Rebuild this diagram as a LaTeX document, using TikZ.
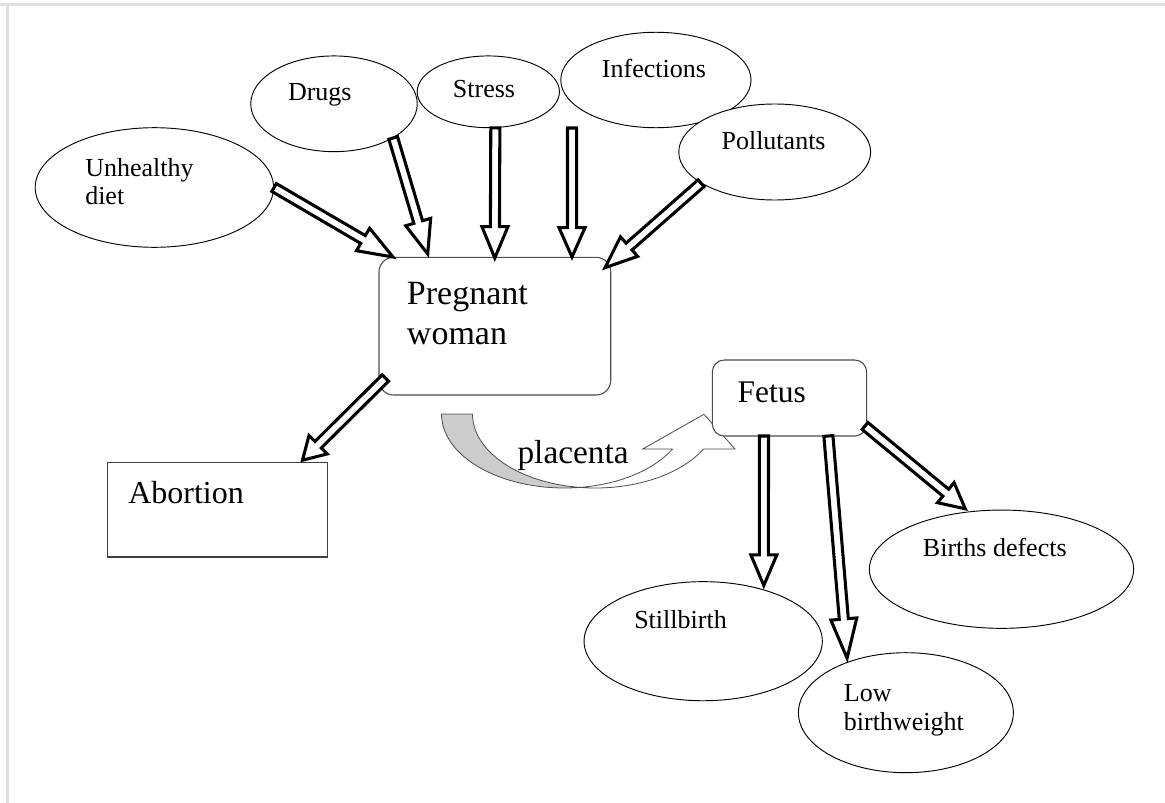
\documentclass[tikz,border=0pt]{standalone}
\usepackage{fontspec}
\setmainfont{Liberation Serif}
\usetikzlibrary{shapes.geometric,calc}
\newcommand\barrow[3][24pt]{%
  \coordinate (hb) at ($(#3)!#1!(#2)$);
  \draw[blk] ($(#2)!3.4pt!90:(#3)$) -- ($(hb)!3.4pt!90:(#3)$) -- ($(hb)!9.75pt!90:(#3)$) -- (#3)
    -- ($(hb)!9.75pt!-90:(#3)$) -- ($(hb)!3.4pt!-90:(#3)$) -- ($(#2)!3.4pt!-90:(#3)$) -- cycle;}
\begin{document}
\begin{tikzpicture}[x=0.75pt,y=-0.75pt,
  ell/.style={ellipse, draw=black, line width=0.7pt, fill=white, inner sep=0pt},
  rbox/.style={rectangle, draw=black!70, line width=0.8pt, fill=white, inner sep=0pt},
  sbox/.style={rectangle, draw=black!75, line width=1pt, fill=white, inner sep=0pt},
  sm/.style={font=\fontsize{19.5}{21}\selectfont, inner sep=0pt, anchor=base west, align=left},
  blk/.style={draw=black, fill=white, line width=2.3pt, miter limit=10},
  band/.style={draw=black!70, line width=0.6pt}]
\useasboundingbox (0,0) rectangle (1165,803);
% page frame
\draw[black!12, line width=2pt] (0,4.5) -- (1165,4.5);
\draw[black!12, line width=2pt] (7.3,4.5) -- (7.3,803);
% causes
\node[ell, minimum width=178.8pt, minimum height=89.7pt] (ud) at (154.4,187.5) {};
\node[ell, minimum width=124.9pt, minimum height=71.8pt] (dr) at (334,103.8) {};
\node[ell, minimum width=106.7pt, minimum height=53.8pt] (st) at (488.3,91.8) {};
\node[ell, minimum width=142.7pt, minimum height=71.6pt] (in) at (655.9,80) {};
\node[ell, minimum width=143.9pt, minimum height=72pt] (po) at (774.7,152) {};
% outcomes
\node[ell, minimum width=178.7pt, minimum height=89.3pt] (sb) at (703.2,641.2) {};
\node[ell, minimum width=161.2pt, minimum height=90pt] (lb) at (905.9,712.7) {};
\node[ell, minimum width=198.2pt, minimum height=88.7pt] (bd) at (1001.5,569.2) {};
% placenta curved arrow
\filldraw[band, fill=black!20]
  plot[domain=180:82.75, samples=50] ({564.3+122.8*cos(\x)},{414+74*sin(\x)})
  -- plot[domain=97.25:180, samples=50] ({595.3+122.8*cos(\x)},{414+74*sin(\x)}) -- cycle;
\filldraw[band, fill=white]
  plot[domain=97.25:28.2, samples=50] ({595.3+122.8*cos(\x)},{414+74*sin(\x)})
  -- (735,449) -- (704,414.3) -- (642.7,449) -- (672.5,449)
  -- plot[domain=28.2:82.75, samples=50] ({564.3+122.8*cos(\x)},{414+74*sin(\x)}) -- cycle;
% boxes
\node[rbox, rounded corners=11pt, minimum width=173.8pt, minimum height=103.3pt] (pw) at (494.85,326.15) {};
\node[rbox, rounded corners=9pt, minimum width=115.8pt, minimum height=57pt] (fe) at (789.5,398) {};
\node[sbox, minimum width=165.3pt, minimum height=70.7pt] (ab) at (217.5,509.85) {};
% arrow ends
\coordinate (t-ud) at (393,257);
\coordinate (t-dr) at (427.7,254);
\coordinate (t-st) at (494.8,258);
\coordinate (s-in) at (572,128);
\coordinate (t-in) at (572,257);
\coordinate (t-po) at (605,267.7);
\coordinate (s-ab) at (385.4,378);
\coordinate (t-ab) at (302.5,460.2);
\coordinate (s-sb) at (764,436);
\coordinate (t-sb) at (763.8,585.5);
\coordinate (s-lb) at (828.4,436);
\coordinate (t-lb) at (847.1,658.2);
\coordinate (s-bd) at (865,426);
\coordinate (t-bd) at (965.3,508.8);
% arrows
\barrow[26pt]{ud.0}{t-ud}
\barrow[25pt]{dr.-30}{t-dr}
\barrow[23.5pt]{st.-79}{t-st}
\barrow[22pt]{s-in}{t-in}
\barrow[24pt]{po.203}{t-po}
\barrow[16.5pt]{s-ab}{t-ab}
\barrow[23pt]{s-sb}{t-sb}
\barrow[29.5pt]{s-lb}{t-lb}
\barrow[19pt]{s-bd}{t-bd}
% labels (base anchor = baseline of the last line)
\node[sm] (ud-l) at (85,204) {Unhealthy\\diet};
\node[sm] (dr-l) at (287.8,100) {Drugs};
\node[sm] (st-l) at (452.7,97.3) {Stress};
\node[sm] (in-l) at (601.7,77) {Infections};
\node[sm] (po-l) at (721.3,149) {Pollutants};
\node[sm] (sb-l) at (634,628.3) {Stillbirth};
\node[sm, font=\fontsize{19.5}{21.2}\selectfont] (lb-l) at (843.6,730) {Low\\birthweight};
\node[sm] (bd-l) at (922.7,556.7) {Births defects};
\node[sm, font=\fontsize{25.5}{30}\selectfont] (pw-l) at (406.7,344) {Pregnant\\woman};
\node[sm, font=\fontsize{23.6}{28}\selectfont] (fe-l) at (737.3,402.7) {Fetus};
\node[sm, font=\fontsize{24}{28}\selectfont] (ab-l) at (128,503.3) {Abortion};
\node[sm, font=\fontsize{25}{30}\selectfont] (pl-l) at (517.3,463.3) {placenta};
\end{tikzpicture}
\end{document}
